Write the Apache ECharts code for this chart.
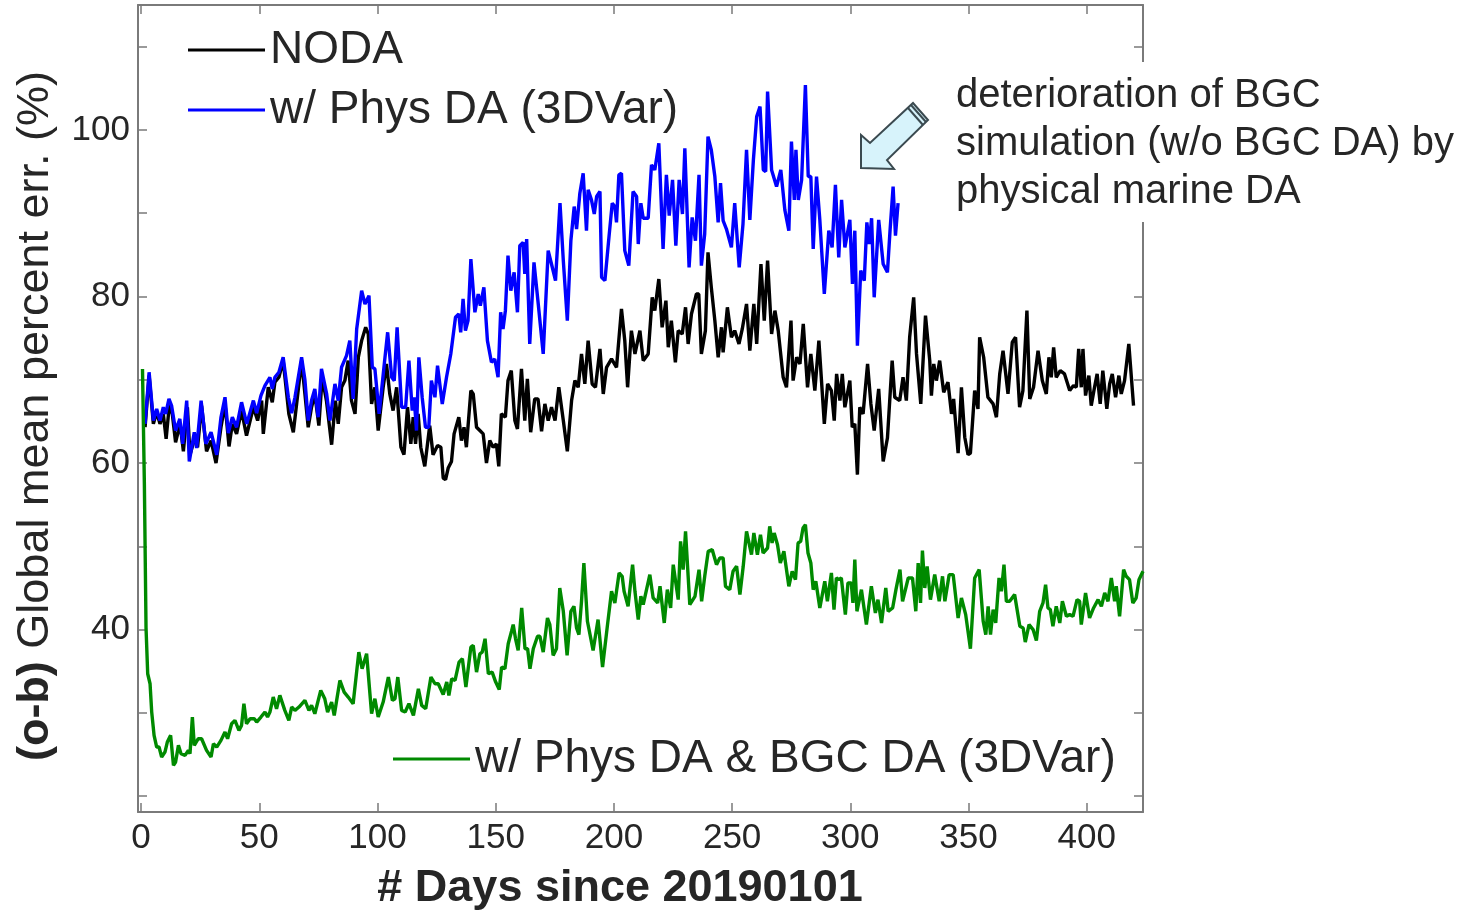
<!DOCTYPE html>
<html>
<head>
<meta charset="utf-8">
<script src="https://cdn.jsdelivr.net/npm/echarts@6/dist/echarts.min.js"></script>
<style>
html,body{margin:0;padding:0;background:#fff;}
#chart{width:1471px;height:919px;}
</style>
</head>
<body>
<div id="chart"></div>
<script>
// ---- Data (day, value) ----
const xTicks = [0, 50, 100, 150, 200, 250, 300, 350, 400];
const yTicks = [20, 30, 40, 50, 60, 70, 80, 90, 100, 110];
const yLabels = [40, 60, 80, 100];
const seriesNames = ['NODA', 'w/ Phys DA (3DVar)', 'w/ Phys DA & BGC DA (3DVar)'];

const noda = [[1.7,64.3],[3.4,70.5],[5.2,64.7],[6.6,66.1],[8.0,64.7],[9.4,65.9],[10.6,62.9],[12.0,67.1],[13.2,65.9],[14.6,62.5],[16.5,64.7],[17.9,61.4],[19.6,66.7],[20.7,61.0],[22.8,63.1],[23.9,61.9],[25.6,66.9],[27.7,61.4],[29.6,62.7],[31.7,60.0],[33.8,64.3],[35.5,67.1],[37.2,62.0],[38.6,64.7],[40.4,63.5],[42.5,66.3],[44.6,63.3],[47.5,66.7],[49.3,65.1],[51.0,67.5],[51.7,63.5],[53.8,69.1],[55.5,67.3],[56.6,69.7],[58.3,70.3],[60.1,72.3],[62.5,65.9],[64.4,63.7],[65.8,67.1],[67.9,72.3],[69.3,68.3],[70.7,64.3],[72.1,66.7],[73.5,68.3],[75.2,64.5],[76.6,70.3],[78.4,67.5],[80.6,62.2],[82.2,67.5],[83.4,64.7],[84.8,69.1],[86.2,69.9],[87.6,72.3],[89.0,67.5],[90.5,65.9],[91.9,72.7],[93.3,74.7],[95.0,76.3],[96.1,75.5],[97.5,67.1],[98.9,69.1],[100.3,63.9],[102.4,69.1],[103.8,71.9],[105.2,68.3],[106.6,66.3],[108.1,69.1],[109.9,61.9],[111.2,61.0],[112.7,66.7],[114.1,62.3],[115.1,65.5],[116.1,62.3],[117.2,65.9],[118.3,61.9],[120.0,59.6],[122.1,64.5],[123.5,61.0],[125.4,62.1],[126.8,61.9],[127.8,58.2],[128.8,58.0],[129.9,59.4],[131.3,60.2],[132.4,63.5],[134.4,65.5],[135.5,62.7],[136.6,64.3],[137.6,61.9],[139.5,68.7],[140.5,68.3],[141.9,64.3],[143.3,63.9],[144.7,63.5],[146.1,60.0],[147.5,62.7],[148.9,61.9],[150.3,62.3],[151.3,59.6],[152.4,65.9],[154.1,65.5],[155.2,69.9],[156.6,71.1],[158.1,65.1],[159.2,64.1],[160.9,71.3],[162.3,65.1],[163.4,70.1],[164.8,63.7],[166.5,67.7],[167.9,67.7],[169.4,63.8],[170.8,67.1],[172.2,65.1],[173.6,66.7],[175.1,65.1],[176.7,69.1],[178.6,65.1],[180.3,61.4],[182.1,67.5],[183.5,69.9],[184.9,69.1],[186.3,73.1],[187.7,69.5],[189.1,74.7],[190.8,69.5],[192.2,69.1],[194.1,73.7],[195.5,68.3],[196.9,71.5],[199.0,72.5],[201.1,71.5],[203.2,78.5],[204.6,74.7],[205.8,69.1],[207.4,75.9],[208.9,73.1],[211.0,75.9],[212.4,72.3],[214.5,73.1],[216.2,79.9],[217.3,78.3],[219.0,82.1],[220.4,76.3],[222.0,79.5],[223.0,73.9],[224.3,77.1],[226.0,72.1],[227.2,75.9],[228.9,75.5],[230.3,78.7],[231.4,74.3],[232.8,77.9],[234.9,80.3],[235.9,80.3],[237.0,73.1],[238.7,75.9],[239.8,85.3],[241.2,81.1],[242.7,77.1],[244.1,72.7],[245.5,76.3],[246.2,73.3],[248.0,78.7],[249.7,75.1],[251.1,75.9],[252.9,74.3],[254.3,76.1],[256.1,79.1],[257.5,73.5],[259.2,79.1],[260.4,74.3],[262.2,83.9],[263.6,77.1],[265.0,84.3],[266.7,75.5],[268.1,78.3],[269.5,75.9],[271.6,70.3],[273.0,69.1],[274.9,77.1],[275.8,69.9],[277.3,72.7],[278.7,71.9],[280.1,76.7],[281.9,69.1],[283.3,73.1],[285.0,68.7],[286.7,74.7],[289.0,64.7],[290.4,69.5],[292.0,68.7],[293.2,65.1],[294.2,70.7],[295.6,67.5],[296.6,70.7],[297.7,66.7],[299.8,69.9],[300.8,64.3],[301.9,64.7],[303.0,58.6],[304.0,66.7],[305.4,65.9],[307.3,71.9],[308.7,67.1],[310.1,63.9],[312.0,68.9],[313.9,60.2],[315.7,63.0],[317.7,72.3],[318.8,67.9],[320.9,67.5],[322.3,70.3],[323.7,67.5],[325.1,75.1],[326.8,79.9],[328.0,73.1],[329.8,67.1],[331.8,77.7],[333.6,72.3],[334.3,68.1],[335.3,71.9],[336.4,69.9],[337.8,72.3],[339.5,68.5],[341.3,69.7],[342.8,65.9],[343.7,67.7],[345.6,61.2],[347.0,69.1],[348.4,63.1],[349.8,61.0],[350.8,61.2],[352.6,68.7],[354.0,66.5],[354.7,75.1],[356.4,72.7],[358.2,67.9],[360.4,67.1],[361.8,65.5],[363.2,70.7],[364.6,73.5],[366.7,68.3],[368.5,74.5],[369.9,75.1],[371.6,66.7],[373.0,68.7],[374.7,78.3],[375.9,67.7],[377.5,69.1],[379.4,73.5],[381.2,69.9],[382.9,68.3],[384.0,72.7],[385.0,70.3],[386.0,73.9],[387.1,70.3],[388.8,71.1],[390.6,70.7],[392.8,68.7],[394.4,69.3],[395.6,69.1],[396.6,73.7],[397.7,69.1],[398.4,73.7],[399.5,68.1],[400.9,70.5],[401.9,66.9],[403.3,69.1],[404.4,70.7],[405.7,67.1],[406.8,71.1],[408.5,66.5],[409.7,69.5],[410.8,70.7],[412.2,67.9],[413.6,70.5],[414.6,68.3],[416.0,69.9],[417.8,74.3],[419.8,66.9]];

const physDA = [[1.7,64.7],[3.4,70.9],[5.2,65.1],[6.6,66.5],[8.0,65.1],[9.4,66.7],[10.4,65.9],[11.8,67.7],[12.9,66.9],[14.6,63.9],[16.4,65.3],[17.6,62.3],[19.3,67.5],[20.4,60.2],[22.5,63.7],[23.5,61.8],[25.4,67.5],[27.4,62.3],[29.6,63.7],[32.0,61.0],[33.8,65.5],[35.5,67.9],[36.9,63.6],[38.6,65.5],[40.4,64.3],[42.5,67.3],[44.7,64.7],[47.5,67.5],[48.9,66.0],[50.7,68.1],[52.4,69.3],[54.5,70.3],[55.5,68.9],[56.6,70.3],[58.3,70.9],[60.1,72.7],[62.3,67.9],[63.7,66.0],[65.1,67.9],[67.9,72.7],[69.3,70.0],[70.7,65.1],[72.1,67.5],[73.5,68.9],[74.9,65.5],[76.3,71.3],[78.5,68.3],[79.9,65.1],[82.0,69.5],[83.4,67.5],[84.8,71.5],[86.9,72.9],[88.3,74.7],[89.7,67.7],[91.2,76.1],[91.9,76.3],[93.3,80.7],[94.7,79.1],[96.4,80.1],[97.8,71.5],[98.9,71.3],[100.7,65.9],[102.8,71.7],[104.3,75.7],[106.0,70.3],[107.1,69.9],[108.3,76.3],[110.2,66.7],[111.9,66.7],[113.3,72.3],[114.7,66.3],[115.5,67.9],[116.5,63.9],[117.5,72.7],[118.9,67.9],[120.3,64.3],[121.7,64.3],[122.8,69.9],[124.3,67.9],[125.4,71.7],[127.4,67.1],[129.2,70.3],[131.0,73.1],[133.0,77.5],[134.4,77.9],[135.2,75.7],[136.2,79.7],[137.2,75.9],[138.3,77.1],[139.5,84.5],[140.2,84.5],[141.2,78.1],[142.6,80.3],[143.5,78.9],[145.0,81.1],[146.5,74.7],[148.2,72.1],[149.6,72.5],[151.0,70.3],[152.1,78.1],[153.1,76.1],[154.1,78.3],[155.2,84.9],[156.4,80.7],[157.8,82.9],[159.2,78.1],[160.2,86.1],[161.6,86.5],[162.3,82.7],[163.1,86.9],[164.4,74.3],[166.2,84.1],[168.0,79.1],[170.1,73.1],[172.2,85.5],[173.6,83.9],[175.3,81.9],[177.2,91.2],[178.6,84.3],[180.3,77.1],[181.8,86.7],[183.2,90.8],[184.2,88.1],[185.6,92.4],[187.0,94.8],[188.4,87.9],[189.1,92.8],[190.5,91.6],[191.7,89.9],[192.7,92.0],[194.1,92.6],[194.8,82.3],[196.2,81.9],[197.9,87.1],[199.3,91.2],[200.4,90.8],[201.1,88.9],[202.1,94.6],[203.2,94.8],[204.6,85.5],[206.3,83.7],[208.1,92.6],[209.6,92.0],[210.3,86.3],[211.4,91.2],[212.4,89.4],[214.5,89.4],[215.9,95.8],[217.3,95.2],[219.0,98.4],[220.8,85.7],[222.2,94.6],[223.4,89.7],[224.8,94.0],[226.2,86.1],[227.6,94.0],[229.0,89.9],[230.0,97.8],[231.8,83.5],[233.1,89.5],[234.5,86.7],[236.0,94.6],[237.0,83.7],[238.4,87.5],[239.8,99.2],[241.2,97.6],[242.7,94.4],[244.1,88.9],[245.1,93.6],[246.2,89.1],[247.6,88.1],[249.7,85.9],[251.1,91.2],[253.0,83.5],[254.6,88.7],[256.1,97.6],[257.5,89.2],[259.0,96.4],[260.4,101.6],[261.8,102.8],[263.2,95.2],[264.2,95.0],[265.0,104.6],[266.7,95.2],[268.8,93.2],[270.6,95.2],[272.3,90.4],[274.0,87.9],[275.1,98.6],[276.3,91.6],[277.0,97.6],[278.0,91.6],[279.4,94.0],[281.0,105.4],[282.2,94.4],[283.3,94.4],[284.3,85.7],[285.7,94.4],[287.1,89.2],[289.0,80.3],[290.9,87.9],[292.3,85.9],[293.7,93.4],[295.1,84.7],[296.3,91.6],[297.7,85.9],[299.8,89.2],[300.9,81.5],[301.9,87.9],[303.0,74.1],[304.4,83.1],[305.9,81.9],[307.0,88.9],[308.0,86.3],[309.0,89.4],[310.1,79.9],[312.0,89.2],[313.9,83.9],[315.7,82.9],[316.8,87.9],[318.1,93.2],[319.1,87.3],[320.2,91.2]];

const physBgcDA = [[0.6,71.3],[1.4,57.4],[2.1,40.2],[2.8,34.7],[3.8,33.5],[4.5,30.1],[5.5,27.3],[6.6,25.9],[7.6,25.9],[8.7,24.7],[10.1,25.3],[11.1,26.5],[12.5,27.3],[13.7,23.7],[14.6,24.1],[15.8,26.1],[16.9,25.1],[18.6,24.9],[20.0,25.5],[20.7,25.1],[21.7,29.5],[22.5,26.1],[24.2,26.9],[25.6,26.9],[27.7,25.5],[29.6,24.7],[30.6,26.3],[32.0,25.9],[33.8,26.7],[35.5,27.7],[36.6,26.9],[38.3,28.7],[39.7,29.1],[41.4,27.9],[42.5,28.5],[43.5,31.1],[44.6,28.7],[46.1,29.3],[47.9,29.3],[48.9,28.9],[50.7,29.5],[52.4,30.1],[53.5,29.5],[54.5,30.1],[55.9,31.9],[57.3,30.5],[58.7,32.1],[60.8,30.3],[62.5,29.1],[63.7,30.7],[65.1,30.3],[66.8,30.7],[69.3,31.5],[71.0,30.3],[72.1,30.9],[73.5,29.9],[76.0,32.7],[77.7,31.7],[78.9,30.1],[80.6,31.3],[81.7,29.7],[84.1,33.9],[85.9,32.5],[87.6,31.9],[89.7,31.1],[90.4,30.9],[92.1,37.3],[93.5,35.3],[95.4,37.1],[97.5,29.9],[98.9,31.7],[100.3,29.5],[102.4,31.3],[104.6,34.3],[106.3,31.5],[107.4,31.7],[108.6,34.3],[110.2,30.3],[111.7,30.1],[113.3,31.1],[115.2,29.7],[117.3,32.9],[118.7,30.9],[120.4,30.5],[122.6,34.3],[124.3,33.5],[125.7,33.5],[127.8,32.2],[129.3,33.7],[130.2,32.1],[131.4,34.1],[132.8,33.9],[134.5,36.1],[135.9,36.5],[137.4,33.1],[139.5,37.9],[140.5,38.1],[141.9,34.9],[143.3,37.1],[144.3,37.3],[145.5,38.9],[146.9,34.7],[148.5,34.9],[150.0,33.7],[151.5,32.8],[152.5,35.5],[153.9,35.3],[155.3,38.3],[156.7,39.8],[157.4,40.6],[158.4,38.9],[159.5,37.5],[161.0,42.6],[162.4,37.7],[163.5,37.7],[164.5,35.3],[165.9,37.7],[167.7,39.2],[168.7,39.2],[170.1,37.3],[171.9,41.4],[172.9,40.6],[174.3,36.9],[175.7,37.7],[177.1,45.0],[178.6,42.2],[180.2,36.9],[181.8,42.2],[183.1,42.8],[184.2,40.2],[185.2,39.4],[186.3,43.4],[187.3,48.0],[188.8,41.0],[191.2,37.5],[193.3,41.2],[195.2,35.5],[197.3,40.6],[199.0,44.6],[200.4,43.2],[202.2,46.8],[203.5,46.4],[204.3,44.6],[206.0,42.8],[207.9,47.8],[208.9,44.6],[210.3,41.2],[211.4,44.0],[212.4,43.0],[215.2,46.6],[216.6,43.8],[218.5,43.2],[219.5,45.2],[221.3,40.8],[222.6,44.8],[224.0,42.6],[225.1,47.8],[227.2,43.6],[228.2,50.6],[229.3,47.2],[230.3,51.8],[232.1,43.0],[234.3,44.0],[236.0,47.2],[237.1,43.4],[238.5,46.6],[239.9,49.4],[241.6,49.6],[243.4,47.8],[244.8,48.6],[246.2,48.6],[247.2,45.2],[249.0,44.8],[250.4,47.0],[251.9,47.6],[253.3,44.2],[254.7,47.6],[256.1,51.8],[258.2,49.0],[259.2,51.6],[260.7,49.0],[262.0,51.4],[263.1,49.2],[265.0,49.8],[265.9,52.4],[266.9,50.4],[267.8,51.6],[269.2,50.2],[270.4,48.0],[271.9,49.4],[274.0,45.2],[275.4,47.0],[276.8,46.0],[277.9,50.4],[279.0,50.6],[280.0,52.2],[281.0,52.6],[282.1,49.2],[283.3,48.0],[284.3,44.8],[285.4,45.8],[287.1,42.6],[289.2,45.8],[290.3,43.4],[292.0,46.8],[293.1,42.4],[294.1,46.2],[295.1,46.0],[296.2,46.2],[297.9,41.8],[299.0,45.6],[300.4,45.6],[301.1,43.2],[301.9,48.4],[302.8,42.2],[304.7,44.8],[306.8,40.6],[308.9,45.2],[310.6,42.0],[311.7,43.6],[313.2,40.8],[315.0,45.0],[316.0,42.2],[317.9,42.6],[319.3,44.8],[321.0,47.2],[322.1,43.4],[324.5,46.2],[326.3,46.2],[327.7,42.2],[328.7,48.0],[329.7,43.2],[330.5,49.5],[331.5,45.0],[332.5,47.6],[333.9,43.6],[335.7,46.6],[337.6,43.4],[339.0,46.4],[340.0,43.4],[341.8,46.6],[343.5,46.6],[345.6,41.4],[347.0,43.8],[348.8,41.8],[350.8,37.7],[352.6,46.2],[354.5,47.2],[356.2,41.0],[357.3,39.4],[358.3,42.8],[359.3,39.4],[360.4,42.4],[361.5,40.8],[362.9,46.2],[363.9,44.6],[365.0,47.8],[366.0,43.4],[367.4,43.4],[369.5,44.2],[371.7,40.4],[373.1,40.2],[374.0,38.5],[375.6,40.6],[377.3,40.0],[378.7,38.7],[380.1,42.2],[381.5,43.2],[382.6,45.4],[383.6,42.6],[384.6,42.4],[385.7,40.4],[387.1,42.8],[388.6,40.8],[389.7,43.4],[391.4,41.6],[392.8,41.8],[394.2,41.6],[395.9,43.6],[397.0,43.4],[397.7,40.6],[399.5,44.4],[401.2,41.4],[402.9,42.6],[404.8,43.6],[406.2,42.8],[407.6,44.4],[409.0,43.4],[410.4,46.2],[411.8,43.4],[412.5,45.2],[413.9,41.6],[415.6,47.2],[416.7,46.4],[418.1,46.0],[419.5,43.2],[420.9,43.8],[422.1,46.0],[423.8,47.0]];

const annotationLines = ['deterioration of BGC', 'simulation (w/o BGC DA) by', 'physical marine DA'];

// ---- Chart ----
const chart = echarts.init(document.getElementById('chart'), null, {renderer: 'canvas'});
const axisGray = '#7a7a7a';
const textCol = '#262626';
const FONT = "'Liberation Sans', Arial, Helvetica, sans-serif";
const X_MIN = -1.3, X_MAX = 423.8, Y_MIN = 18.1, Y_MAX = 115;

function xAxisCfg(pos, showLabels) {
  return {
    type: 'value', position: pos, min: X_MIN, max: X_MAX,
    axisLine: {show: true, onZero: false, lineStyle: {color: axisGray, width: 2}},
    axisTick: {show: true, inside: true, length: 9, customValues: xTicks, lineStyle: {color: axisGray, width: 1.5}},
    axisLabel: {show: showLabels, customValues: xTicks, margin: 9, fontSize: 35, color: textCol, fontFamily: FONT},
    splitLine: {show: false}
  };
}
function yAxisCfg(pos, showLabels) {
  return {
    type: 'value', position: pos, min: Y_MIN, max: Y_MAX,
    axisLine: {show: true, onZero: false, lineStyle: {color: axisGray, width: 2}},
    axisTick: {show: true, inside: true, length: 9, customValues: yTicks, lineStyle: {color: axisGray, width: 1.5}},
    axisLabel: {show: showLabels, customValues: yLabels, margin: 8, fontSize: 35, color: textCol, fontFamily: FONT},
    splitLine: {show: false}
  };
}

const legendText = {fontSize: 46, color: textCol, fontFamily: FONT, lineHeight: 48};
const colors = ['#000000', '#0000ff', '#008a00'];

const option = {
  backgroundColor: '#ffffff',
  animation: false,
  grid: {left: 138, right: 328, top: 5, bottom: 107, containLabel: false},
  xAxis: [xAxisCfg('bottom', true), xAxisCfg('top', false)],
  yAxis: [yAxisCfg('left', true), yAxisCfg('right', false)],
  legend: [
    {data: [seriesNames[0]], left: 188, top: 26, padding: 0, icon: 'rect', itemWidth: 77, itemHeight: 3, selectedMode: false, textStyle: legendText},
    {data: [seriesNames[1]], left: 188, top: 86, padding: 0, icon: 'rect', itemWidth: 77, itemHeight: 3, selectedMode: false, textStyle: legendText},
    {data: [seriesNames[2]], left: 393, top: 735, padding: 0, icon: 'rect', itemWidth: 77, itemHeight: 3, selectedMode: false, textStyle: legendText}
  ],
  series: [
    {name: seriesNames[0], type: 'line', data: noda, showSymbol: false, symbol: 'none', lineStyle: {color: colors[0], width: 3.4}, itemStyle: {color: colors[0]}, z: 3},
    {name: seriesNames[1], type: 'line', data: physDA, showSymbol: false, symbol: 'none', lineStyle: {color: colors[1], width: 3.4}, itemStyle: {color: colors[1]}, z: 4},
    {name: seriesNames[2], type: 'line', data: physBgcDA, showSymbol: false, symbol: 'none', lineStyle: {color: colors[2], width: 3.4}, itemStyle: {color: colors[2]}, z: 5}
  ],
  graphic: [
    // y axis title
    {type: 'text', x: 36, y: 416, rotation: Math.PI / 2, z: 10,
     style: {text: '{a|(o-b)}{b| Global mean percent err. (%)}', align: 'center', verticalAlign: 'middle',
       rich: {a: {fontSize: 45, fontWeight: 'bold', fill: textCol, fontFamily: FONT},
              b: {fontSize: 45, fill: textCol, fontFamily: FONT}}}},
    // x axis title
    {type: 'text', x: 620, y: 889, z: 10,
     style: {text: '# Days since 20190101', align: 'center', verticalAlign: 'middle', fontSize: 45, fontWeight: 'bold', fill: textCol, fontFamily: FONT}},
    // annotation box (white, covers right border)
    {type: 'rect', shape: {x: 945, y: 62, width: 526, height: 160}, style: {fill: '#ffffff'}, z: 20},
    {type: 'text', x: 956, y: 72, z: 21,
     style: {text: annotationLines.join('\n'), lineHeight: 48, fontSize: 40, fill: textCol, fontFamily: FONT, align: 'left', verticalAlign: 'top'}},
    // arrow
    {type: 'polygon', z: 22,
     shape: {points: [[861, 168], [861, 135], [870, 143], [913, 103], [928, 120], [887, 160], [894, 169]]},
     style: {fill: '#d7f3fb', stroke: '#3b4a50', lineWidth: 2, lineJoin: 'miter'}},
    {type: 'polyline', z: 23, shape: {points: [[908, 108], [923, 125]]}, style: {stroke: '#3b4a50', lineWidth: 2, fill: null}},
    {type: 'polyline', z: 23, shape: {points: [[911, 105], [926, 122]]}, style: {stroke: '#3b4a50', lineWidth: 2, fill: null}}
  ]
};
chart.setOption(option);
</script>
</body>
</html>
